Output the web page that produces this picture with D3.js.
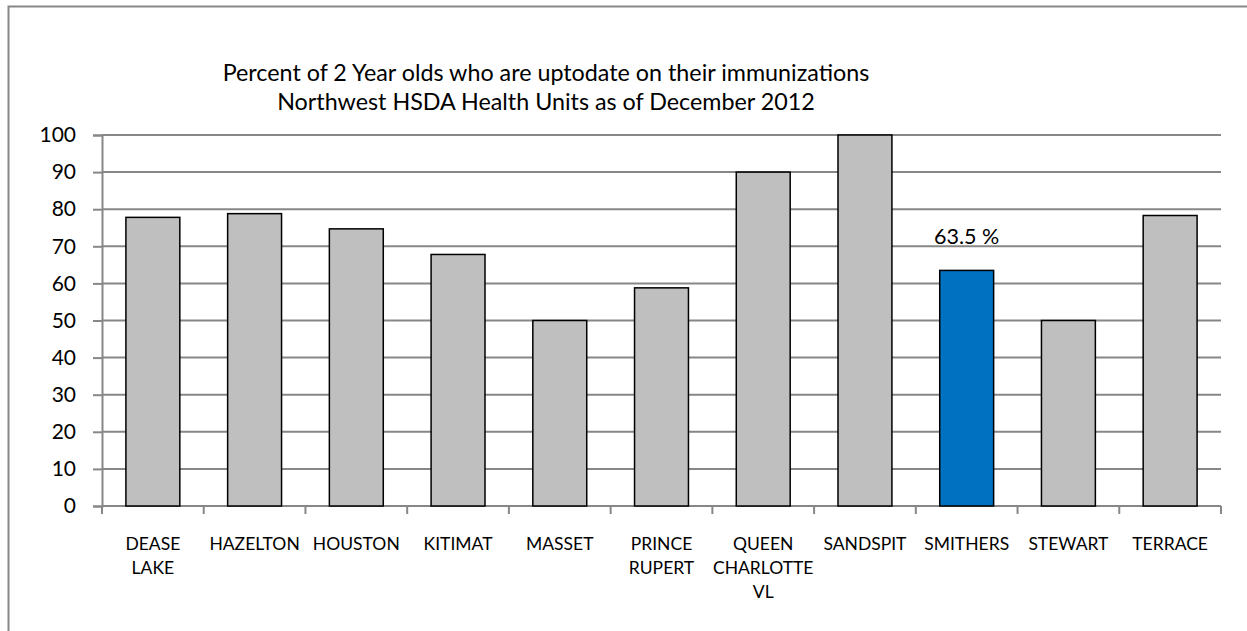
<!DOCTYPE html>
<html>
<head>
<meta charset="utf-8">
<script src="https://cdn.jsdelivr.net/npm/d3@7"></script>
<style>
  body { margin: 0; background: #fff; }
  svg { display: block; font-family: Lato, "Open Sans", sans-serif; }
</style>
</head>
<body>
<svg id="chart"></svg>
<script>
// data
var units = ["DEASE LAKE", "HAZELTON", "HOUSTON", "KITIMAT", "MASSET", "PRINCE RUPERT",
             "QUEEN CHARLOTTE VL", "SANDSPIT", "SMITHERS", "STEWART", "TERRACE"];
var pctUpToDate = [77.8, 78.8, 74.7, 67.8, 50.0, 58.8, 90.0, 100.0, 63.5, 50.0, 78.3];
var yTicks = [0, 10, 20, 30, 40, 50, 60, 70, 80, 90, 100];
var highlight = "SMITHERS";
var titleLines = ["Percent of 2 Year olds who are uptodate on their immunizations",
                  "Northwest HSDA Health Units as of December 2012"];

var vWidth = 1247, vHeight = 631;
var margin = {left: 102, right: 26, top: 135, bottom: 125};

var svg = d3.select("#chart").attr("width", vWidth).attr("height", vHeight);

// outer chart border (only top + left are inside the window)
svg.append("rect")
    .attr("x", 8.5).attr("y", 6.5)
    .attr("width", vWidth + 20).attr("height", vHeight + 20)
    .attr("fill", "none").attr("stroke", "#878787").attr("stroke-width", 2);

var x = d3.scaleBand()
    .domain(units)
    .range([margin.left, vWidth - margin.right])
    .paddingInner(0.47).paddingOuter(0.235);

var y = d3.scaleLinear()
    .domain([0, 100])
    .range([vHeight - margin.bottom, margin.top]);

// title
svg.append("g").selectAll("text").data(titleLines).enter().append("text")
    .attr("x", 546).attr("y", function (d, i) { return 81 + i * 29; })
    .attr("text-anchor", "middle")
    .attr("font-size", 23.3)
    .attr("fill", "#000")
    .text(function (d) { return d; });

// gridlines
svg.append("g").selectAll("line").data(yTicks.filter(function (d) { return d > 0; })).enter().append("line")
    .attr("x1", margin.left).attr("x2", vWidth - margin.right)
    .attr("y1", function (d) { return y(d); }).attr("y2", function (d) { return y(d); })
    .attr("stroke", "#878787").attr("stroke-width", 2);

// y axis
var yAxis = svg.append("g")
    .attr("transform", "translate(" + margin.left + ",0)")
    .call(d3.axisLeft(y).tickValues(yTicks).tickSize(9).tickPadding(17));
yAxis.select(".domain").attr("stroke", "#878787").attr("stroke-width", 2);
yAxis.selectAll(".tick line").attr("stroke", "#878787").attr("stroke-width", 2);
yAxis.selectAll("text").attr("font-size", 21).attr("font-family", "Lato, sans-serif").attr("fill", "#000");

// x axis with ticks between categories
var bounds = d3.range(units.length + 1).map(function (i) { return margin.left + i * (vWidth - margin.left - margin.right) / units.length; });
var xg = svg.append("g");
xg.append("line")
    .attr("x1", margin.left).attr("x2", vWidth - margin.right)
    .attr("y1", y(0)).attr("y2", y(0))
    .attr("stroke", "#878787").attr("stroke-width", 2);
xg.selectAll("line.tk").data(bounds).enter().append("line")
    .attr("class", "tk")
    .attr("x1", function (d) { return d; }).attr("x2", function (d) { return d; })
    .attr("y1", y(0)).attr("y2", y(0) + 8)
    .attr("stroke", "#878787").attr("stroke-width", 2);

// bars
svg.append("g").selectAll("rect").data(units).enter().append("rect")
    .attr("x", function (d) { return x(d); })
    .attr("width", x.bandwidth())
    .attr("y", function (d, i) { return y(pctUpToDate[i]); })
    .attr("height", function (d, i) { return y(0) - y(pctUpToDate[i]); })
    .attr("fill", function (d) { return d === highlight ? "#0070c0" : "#bfbfbf"; })
    .attr("stroke", "#000").attr("stroke-width", 1.5);

// category labels (wrapped words)
var wrapLines = {"DEASE LAKE": ["DEASE", "LAKE"], "PRINCE RUPERT": ["PRINCE", "RUPERT"],
                 "QUEEN CHARLOTTE VL": ["QUEEN", "CHARLOTTE", "VL"]};
var labels = svg.append("g").selectAll("text").data(units).enter().append("text")
    .attr("text-anchor", "middle")
    .attr("font-size", 17.5)
    .attr("fill", "#000");
labels.each(function (d) {
    var lines = wrapLines[d] || [d];
    var t = d3.select(this);
    lines.forEach(function (ln, i) {
        t.append("tspan")
            .attr("x", x(d) + x.bandwidth() / 2)
            .attr("y", 550 + i * 24)
            .text(ln);
    });
});

// value label on highlighted bar
var hi = units.indexOf(highlight);
svg.append("text")
    .attr("x", x(highlight) + x.bandwidth() / 2)
    .attr("y", y(pctUpToDate[hi]) - 26)
    .attr("text-anchor", "middle")
    .attr("font-size", 21.5)
    .attr("fill", "#000")
    .text(pctUpToDate[hi].toFixed(1) + " %");
</script>
</body>
</html>
